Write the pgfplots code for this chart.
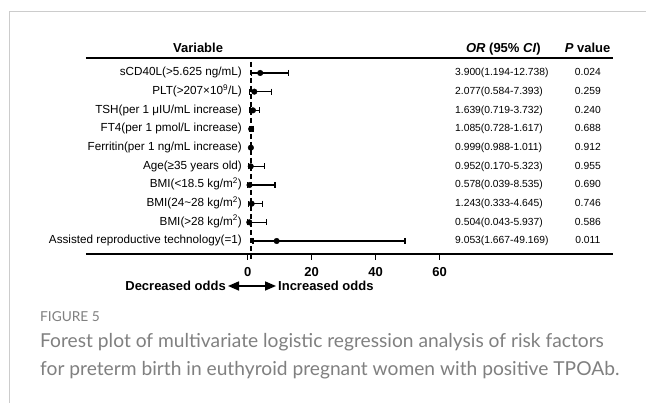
\documentclass[border=0pt]{standalone}
\usepackage{fontspec}
\setmainfont{Liberation Sans}
\newfontfamily\capfont{Lato}
\usepackage{pgfplots}
\pgfplotsset{compat=1.18}
\usepackage{pgfplotstable}
\usetikzlibrary{arrows.meta}
\definecolor{framegray}{HTML}{CCCCCC}
\definecolor{capgray}{HTML}{808080}

\pgfplotstableread{
row or lo hi
1 3.900 1.194 12.738
2 2.077 0.584 7.393
3 1.639 0.719 3.732
4 1.085 0.728 1.617
5 0.999 0.988 1.011
6 0.952 0.170 5.323
7 0.578 0.039 8.535
8 1.243 0.333 4.645
9 0.504 0.043 5.937
10 9.053 1.667 49.169
}\ortable

\begin{document}
\begin{tikzpicture}[x=1pt,y=1pt,
  lbl/.style={font=\fontsize{11.7}{14}\selectfont, text height=0.75em, text depth=0.2em, inner sep=0pt},
  val/.style={font=\fontsize{10.3}{12}\selectfont, text height=0.75em, text depth=0.2em, inner sep=0pt},
  hdr/.style={font=\fontsize{13}{15}\selectfont\bfseries, text height=0.75em, text depth=0.2em, inner sep=0pt}]
\useasboundingbox (0pt,0pt) rectangle (646pt,403pt);
\fill[white] (0pt,0pt) rectangle (646pt,403pt);
\draw[framegray, line width=1pt] (9.5pt,0pt) -- (9.5pt,391pt) -- (646pt,391pt);
\begin{axis}[at={(86pt,149pt)}, anchor=south west, scale only axis,
  width=527pt, height=196pt,
  xmin=-50.53, xmax=114.16, ymin=-10.696, ymax=-0.197,
  clip=false, axis line style={draw=none},
  ytick=\empty, xtick={0,20,40,60}, xtick pos=bottom,
  tick align=outside, major tick length=6pt,
  tick style={black, line width=1.2pt},
  /pgf/number format/assume math mode=true,
  xticklabel style={font=\fontsize{13}{15}\selectfont\bfseries, yshift=-4pt},
]
\draw[line width=1.8pt] (axis cs:-50.53,-0.197) -- (axis cs:114.16,-0.197);
\draw[line width=1.8pt] (axis cs:-50.53,-10.696) -- (axis cs:114.16,-10.696);
\draw[black, line width=1.4pt, dash pattern=on 5pt off 3pt] (axis cs:1,-0.41) -- (axis cs:1,-11.02);
\addplot[black, mark=*, mark size=2.8pt, only marks,
  error bars/.cd, x dir=both, x explicit,
  error bar style={line width=1.3pt},
  error mark options={black, mark size=3pt, line width=1.3pt, rotate=90}]
  table[x=or, y expr=-\thisrow{row}, x error plus expr=\thisrow{hi}-\thisrow{or}, x error minus expr=\thisrow{or}-\thisrow{lo}] {\ortable};
% headers
\node[hdr] at (axis cs:-15.5,0.23) {Variable};
\node[hdr] at (axis cs:79.9,0.23) {\textit{OR} (95\% \textit{CI})};
\node[hdr] at (axis cs:106.2,0.23) {\textit{P} value};
% row labels
\node[lbl, anchor=east] at (axis cs:-1.78,-1) {sCD40L(>5.625 ng/mL)};
\node[lbl, anchor=east] at (axis cs:-1.78,-2) {PLT(>207×10\textsuperscript{9}/L)};
\node[lbl, anchor=east] at (axis cs:-1.78,-3) {TSH(per 1 μIU/mL increase)};
\node[lbl, anchor=east] at (axis cs:-1.78,-4) {FT4(per 1 pmol/L increase)};
\node[lbl, anchor=east] at (axis cs:-1.78,-5) {Ferritin(per 1 ng/mL increase)};
\node[lbl, anchor=east] at (axis cs:-1.78,-6) {Age(≥35 years old)};
\node[lbl, anchor=east] at (axis cs:-1.78,-7) {BMI(<18.5 kg/m\textsuperscript{2})};
\node[lbl, anchor=east] at (axis cs:-1.78,-8) {BMI(24\textasciitilde 28 kg/m\textsuperscript{2})};
\node[lbl, anchor=east] at (axis cs:-1.78,-9) {BMI(>28 kg/m\textsuperscript{2})};
\node[lbl, anchor=east] at (axis cs:-1.78,-10) {Assisted reproductive technology(=1)};
% OR values
\node[val, anchor=west] at (axis cs:64.78,-1) {3.900(1.194-12.738)};
\node[val, anchor=west] at (axis cs:64.78,-2) {2.077(0.584-7.393)};
\node[val, anchor=west] at (axis cs:64.78,-3) {1.639(0.719-3.732)};
\node[val, anchor=west] at (axis cs:64.78,-4) {1.085(0.728-1.617)};
\node[val, anchor=west] at (axis cs:64.78,-5) {0.999(0.988-1.011)};
\node[val, anchor=west] at (axis cs:64.78,-6) {0.952(0.170-5.323)};
\node[val, anchor=west] at (axis cs:64.78,-7) {0.578(0.039-8.535)};
\node[val, anchor=west] at (axis cs:64.78,-8) {1.243(0.333-4.645)};
\node[val, anchor=west] at (axis cs:64.78,-9) {0.504(0.043-5.937)};
\node[val, anchor=west] at (axis cs:64.78,-10) {9.053(1.667-49.169)};
% P values
\node[val] at (axis cs:106.3,-1) {0.024};
\node[val] at (axis cs:106.3,-2) {0.259};
\node[val] at (axis cs:106.3,-3) {0.240};
\node[val] at (axis cs:106.3,-4) {0.688};
\node[val] at (axis cs:106.3,-5) {0.912};
\node[val] at (axis cs:106.3,-6) {0.955};
\node[val] at (axis cs:106.3,-7) {0.690};
\node[val] at (axis cs:106.3,-8) {0.746};
\node[val] at (axis cs:106.3,-9) {0.586};
\node[val] at (axis cs:106.3,-10) {0.011};
\end{axis}
\node[font=\fontsize{13}{15}\selectfont\bfseries, anchor=east, inner sep=0pt] at (226pt,117pt) {Decreased odds};
\node[font=\fontsize{13}{15}\selectfont\bfseries, anchor=west, inner sep=0pt] at (278pt,117pt) {Increased odds};
\draw[line width=1.6pt, {Triangle[length=11pt,width=9pt]}-{Triangle[length=11pt,width=9pt]}] (228pt,117pt) -- (276pt,117pt);
\node[font=\fontsize{13.7}{15}\selectfont, text=capgray, anchor=base west, inner sep=0pt] at (40pt,81pt) {\capfont FIGURE 5};
\node[font=\fontsize{19.2}{22}\selectfont, text=capgray, anchor=base west, inner sep=0pt] at (40pt,55pt) {\capfont Forest plot of multivariate logistic regression analysis of risk factors};
\node[font=\fontsize{19.2}{22}\selectfont, text=capgray, anchor=base west, inner sep=0pt] at (40pt,27pt) {\capfont for preterm birth in euthyroid pregnant women with positive TPOAb.};
\end{tikzpicture}
\end{document}
